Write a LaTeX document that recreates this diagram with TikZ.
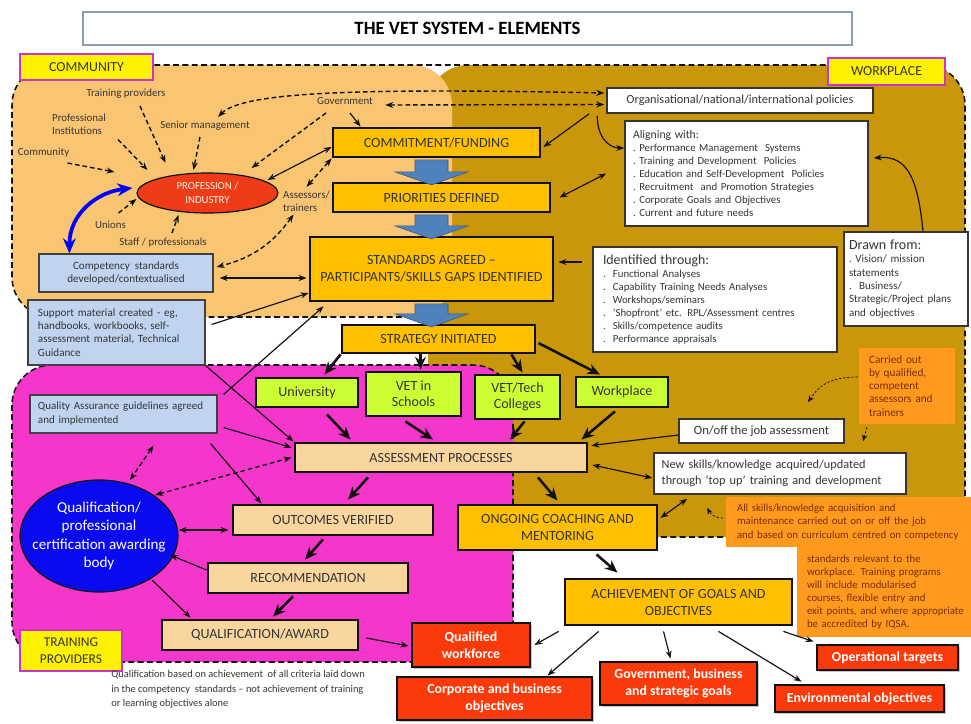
\documentclass[tikz,border=0pt]{standalone}
\usepackage{fontspec}
\setmainfont{Carlito}
\usepackage{xcolor}
\usepackage{tikz}
\usetikzlibrary{positioning,arrows.meta,calc,shapes.geometric,shadows}
\definecolor{commbg}{HTML}{F9C573}
\definecolor{workbg}{HTML}{C9960C}
\definecolor{pinkbg}{HTML}{F437CA}
\definecolor{gold}{HTML}{FFC000}
\definecolor{peach}{HTML}{FAD69F}
\definecolor{lime}{HTML}{CCFF33}
\definecolor{redbox}{HTML}{FA3A0A}
\definecolor{proffill}{HTML}{EE3B18}
\definecolor{lblue}{HTML}{C0D3EF}
\definecolor{notefill}{HTML}{FF9A1E}
\definecolor{notetxt}{HTML}{7A2E06}
\definecolor{qblue}{HTML}{0A0AF0}
\definecolor{blockblue}{HTML}{4F81BD}
\definecolor{tagline}{HTML}{CC33CC}
\definecolor{titleline}{HTML}{8C9DB5}
\definecolor{ink}{HTML}{111111}
\definecolor{muted}{HTML}{3A3530}

\begin{document}
\begin{tikzpicture}[x=0.03cm,y=-0.03cm,
  font=\fontsize{9.2}{11.1}\selectfont,
  >={Stealth[length=2.4mm,width=1.8mm]},
  zone/.style={draw=ink,line width=1.3pt,dash pattern=on 5pt off 3pt},
  tag/.style={draw=tagline,line width=1.2pt,fill=yellow,text=ink!85,font=\fontsize{11.8}{13.5}\selectfont,align=center,inner sep=0pt},
  stage/.style={draw=ink,line width=2.4pt,fill=gold,text=ink!85,align=center,inner sep=0pt,font=\fontsize{12}{14.5}\selectfont},
  proc/.style={stage,fill=peach},
  route/.style={stage,fill=lime,font=\fontsize{12}{14}\selectfont},
  goal/.style={stage,fill=redbox,text=white,font=\bfseries\fontsize{11.8}{15}\selectfont,drop shadow={shadow xshift=1.5pt,shadow yshift=-1.5pt,opacity=.45}},
  wbox/.style={draw=ink!85,line width=1.3pt,fill=white,text=ink!85,inner sep=0pt},
  bluebox/.style={draw=ink!80,line width=1pt,fill=lblue,text=ink!85,inner sep=0pt,font=\fontsize{9.5}{11.2}\selectfont},
  note/.style={fill=notefill,text=notetxt,inner sep=0pt,align=left},
  lbl/.style={text=muted,align=left,inner sep=1pt,font=\fontsize{9.3}{11}\selectfont},
  arr/.style={line width=1pt,draw=ink},
  darr/.style={arr,line width=1.2pt,dash pattern=on 4pt off 2.5pt},
  thindash/.style={arr,line width=0.6pt,dash pattern=on 2pt off 1.5pt,>={Stealth[length=2mm,width=1.6mm]}},
  fat/.style={line width=2.2pt,draw=ink,-{Stealth[length=3.8mm,width=3.2mm]}},
  bluecurve/.style={line width=3.2pt,draw=blue,>={Stealth[length=4.5mm,width=3.8mm]}}]

  \useasboundingbox (0,0) rectangle (971,724);

  \fill[workbg,rounded corners=1.2cm] (428,537) -- (428,65) -- (965,65) -- (965,537) -- cycle;
  \fill[commbg,rounded corners=1.2cm] (12,65) rectangle (452,317);
  \fill[pinkbg,rounded corners=1.2cm] (12,365) rectangle (513,662);
  \draw[zone,rounded corners=1.2cm] (430,317) -- (12,317) -- (12,65) -- (965,65) -- (965,537) -- (513,537);
  \draw[zone,rounded corners=1.2cm] (12,365) rectangle (513,662);

  \node[draw=titleline,line width=1.2pt,fill=white,minimum width=23.07cm,minimum height=0.99cm,font=\bfseries\fontsize{16}{18}\selectfont] (title) at (467.5,28.5) {THE VET SYSTEM - ELEMENTS};
  \node[tag,minimum width=3.99cm,minimum height=0.78cm] (tcomm) at (86.5,67) {COMMUNITY};
  \node[tag,minimum width=3.51cm,minimum height=0.81cm] (twork) at (886.5,71.5) {WORKPLACE};
  \node[tag,minimum width=3.06cm,minimum height=1.23cm,font=\fontsize{11.5}{14}\selectfont] (ttrain) at (71,650.5) {TRAINING\\PROVIDERS};

  \node[lbl] (trprov) at (126,94) {Training providers};
  \node[lbl] (profinst) at (79,124.5) {Professional\\Institutions};
  \node[lbl] (seniorm) at (205,126) {Senior management};
  \node[lbl] (commty) at (43.5,153) {Community};
  \node[lbl] (govlbl) at (345,101) {Government};
  \node[lbl] (asstr) at (306.5,201.5) {Assessors/\\trainers};
  \node[lbl] (unions) at (110.5,225) {Unions};
  \node[lbl] (staffp) at (163,243) {Staff / professionals};
  \node[ellipse,draw=ink,line width=1pt,fill=proffill,text=white!90!orange,minimum width=4.23cm,minimum height=1.2cm,inner sep=0pt,align=center,font=\fontsize{9.2}{12}\selectfont] (prof) at (207.5,193) {PROFESSION /\\INDUSTRY};

  \node[stage,minimum width=6.21cm,minimum height=0.87cm] (commit) at (436.5,142.5) {COMMITMENT/FUNDING};
  \node[stage,minimum width=6.51cm,minimum height=0.87cm] (prior) at (441.5,197.5) {PRIORITIES DEFINED};
  \node[stage,minimum width=7.29cm,minimum height=1.92cm] (stand) at (431.5,269) {STANDARDS AGREED --\\PARTICIPANTS/SKILLS GAPS IDENTIFIED};
  \node[stage,minimum width=5.79cm,minimum height=0.84cm] (strat) at (438.5,339) {STRATEGY INITIATED};

  \node[bluebox,minimum width=5.22cm,minimum height=1.14cm,align=center] (compst) at (126,273) {Competency\ \ standards\\developed/contextualised};
  \node[bluebox,minimum width=5.31cm,minimum height=1.95cm,text width=4.71cm,align=left] (suppm) at (116.5,332.5) {Support material created - eg,\\handbooks, workbooks, self-\\assessment material, Technical\\Guidance};
  \node[bluebox,minimum width=5.61cm,minimum height=1.14cm,text width=5.13cm,align=left,font=\fontsize{9.4}{12}\selectfont] (qag) at (123.5,414) {Quality Assurance guidelines agreed\\and implemented};

  \node[wbox,minimum width=7.98cm,minimum height=0.75cm,font=\fontsize{10.5}{12}\selectfont] (orgp) at (740,100.5) {Organisational/national/international policies};
  \node[wbox,minimum width=7.29cm,minimum height=3.15cm,text width=6.81cm,align=left] (align) at (746.5,173.5) {{\fontsize{10}{11}\selectfont Aligning with:}\\
    .\ Performance Management\ \ Systems\\
    .\ Training and Development\ \ Policies\\
    .\ Education and Self-Development\ \ Policies\\
    .\ Recruitment\ \ and Promotion Strategies\\
    .\ Corporate Goals and Objectives\\
    .\ Current and future needs};
  \node[wbox,minimum width=7.32cm,minimum height=3.15cm,text width=6.72cm,align=left] (ident) at (715,299.5) {{\fontsize{11.8}{12}\selectfont Identified through:}\\
    .\ \ Functional Analyses\\
    .\ \ Capability Training Needs Analyses\\
    .\ \ Workshops/seminars\\
    .\ \ `Shopfront' etc. RPL/Assessment centres\\
    .\ \ Skills/competence audits\\
    .\ \ Performance appraisals};
  \node[wbox,minimum width=3.72cm,minimum height=2.82cm,text width=3.42cm,align=left,font=\fontsize{9.4}{11.4}\selectfont] (drawn) at (906,279) {{\fontsize{12}{13}\selectfont Drawn from:}\\
    .\ Vision/ mission\\statements\\.\ \ Business/\\Strategic/Project plans\\and objectives};
  \node[note,minimum width=2.88cm,minimum height=2.28cm,text width=2.28cm,font=\fontsize{9.6}{11.2}\selectfont] (carried) at (907,386) {Carried out\\by qualified,\\competent\\assessors and\\trainers};

  \node[route,minimum width=3.06cm,minimum height=0.87cm] (univ) at (307,392.5) {University};
  \node[route,minimum width=2.85cm,minimum height=1.32cm] (vets) at (413.5,394) {VET in\\Schools};
  \node[route,minimum width=2.55cm,minimum height=1.32cm] (vett) at (517.5,397) {VET/Tech\\Colleges};
  \node[route,minimum width=2.76cm,minimum height=0.9cm] (wplace) at (622,392) {Workplace};

  \node[proc,minimum width=8.76cm,minimum height=0.87cm] (asmt) at (441,457.5) {ASSESSMENT PROCESSES};
  \node[wbox,minimum width=4.95cm,minimum height=0.72cm,font=\fontsize{10.8}{12}\selectfont] (onoff) at (761.5,431) {On/off the job assessment};
  \node[wbox,minimum width=7.56cm,minimum height=1.23cm,text width=7.1cm,align=left,font=\fontsize{10.5}{13.5}\selectfont] (newsk) at (780,473.5) {New skills/knowledge acquired/updated\\through `top up' training and development};
  \node[note,minimum width=5.52cm,minimum height=2.7cm,inner xsep=0.3cm,text width=4.92cm,font=\fontsize{9.25}{11.2}\selectfont] (allsk2) at (889,592) {standards relevant to the\\workplace. Training programs\\will include modularised\\courses, flexible entry and\\exit points, and where appropriate\\be accredited by IQSA.};
  \node[note,minimum width=7.66cm,minimum height=1.5cm,inner xsep=0.33cm,text width=7cm,font=\fontsize{9.2}{11.2}\selectfont] (allsk) at (853.7,522) {All skills/knowledge acquisition and\\maintenance carried out on or off the job\\and based on curriculum centred on competency};

  \node[ellipse,draw=ink,line width=1pt,fill=qblue,text=white,minimum width=4.74cm,minimum height=3.36cm,inner xsep=-0.36cm,inner ysep=0pt,align=center,font=\fontsize{12.9}{15.6}\selectfont] (qbody) at (99,536) {Qualification/\\professional\\certification awarding\\body};
  \node[proc,minimum width=6cm,minimum height=0.9cm] (outc) at (333,520) {OUTCOMES VERIFIED};
  \node[proc,minimum width=6cm,minimum height=0.9cm] (recom) at (308,578) {RECOMMENDATION};
  \node[proc,minimum width=5.88cm,minimum height=0.9cm] (qaward) at (260,635) {QUALIFICATION/AWARD};
  \node[stage,minimum width=5.97cm,minimum height=1.35cm] (ongo) at (557.5,527.5) {ONGOING COACHING AND\\MENTORING};
  \node[stage,minimum width=6.81cm,minimum height=1.38cm] (achv) at (678.5,602) {ACHIEVEMENT OF GOALS AND\\OBJECTIVES};

  \node[goal,minimum width=3.54cm,minimum height=1.32cm] (qwork) at (471,645) {Qualified\\workforce};
  \node[goal,minimum width=5.85cm,minimum height=1.29cm] (corp) at (494.5,698.5) {Corporate and business\\objectives};
  \node[goal,minimum width=4.71cm,minimum height=1.29cm] (govt) at (678.5,683.5) {Government, business\\and strategic goals};
  \node[goal,minimum width=4.23cm,minimum height=0.75cm] (optg) at (887.5,657.5) {Operational targets};
  \node[goal,minimum width=5.07cm,minimum height=0.81cm] (envo) at (859.5,698.5) {Environmental objectives};
  \node[lbl,anchor=north west,font=\fontsize{8.9}{12.5}\selectfont] (qnote) at (110,669) {Qualification based on achievement\ \ of all criteria laid down\\in the competency\ \ standards -- not achievement of training\\or learning objectives alone};

  \foreach \a/\b/\s in {commit/prior/12,prior/stand/11,stand/strat/10}
    \filldraw[fill=blockblue,draw=blockblue!70!black,line width=0.5pt] (\a.south -| stand.center) ++(-16.5,1.5) -- ++(33,0) -- ++(0,\s) -- ++(20,0) -- ++(-36.5,13) -- ++(-36.5,-13) -- ++(20,0) -- cycle;

  \draw[darr,->] ([shift={(14,12)}]trprov.center) -- ([shift={(-42,-30)}]prof.center);
  \draw[darr,->] ([shift={(39,15)}]profinst.center) -- ([shift={(-60,-23)}]prof.center);
  \draw[darr,->] ([shift={(24,10)}]commty.center) -- ([shift={(-93,-21)}]prof.center);
  \draw[darr,->] ([shift={(-5,11)}]seniorm.center) -- ([shift={(-14,-23)}]prof.center);
  \draw[darr,->] ([shift={(-19,12)}]govlbl.center) -- ([shift={(44,-25)}]prof.center);
  \draw[darr,->] ([shift={(8,-12)}]unions.center) -- ([shift={(-71,6)}]prof.center);
  \draw[darr,->] ([shift={(9,-10)}]staffp.center) -- ([shift={(-29,22)}]prof.center);
  \draw[arr,<->] ([shift={(60,-13)}]prof.center) -- ([shift={(0,4.5)}]commit.west);
  \draw[arr,->] ([shift={(5,12)}]govlbl.center) -- ([shift={(29,0)}]commit.north west);
  \draw[darr,<->] ([shift={(0,-3)}]asstr.north) -- (commit.south west);
  \draw[darr,<->] ([shift={(-13,13)}]asstr.center) to[bend left=20] ([shift={(3,-6)}]compst.east);
  \draw[bluecurve,<->] ([shift={(31,0)}]compst.north west) .. controls +(0,-40) and +(-35,4) .. ([shift={(-4,-5)}]prof.west);
  \draw[arr,<->] ([shift={(6,5)}]compst.east) -- ([shift={(-2,9)}]stand.west);
  \draw[arr,->] ([shift={(6,-8)}]suppm.east) -- ([shift={(0,24)}]stand.west);
  \draw[arr,->] ([shift={(6,0)}]qag.north east) -- ([shift={(15,4)}]stand.south west);
  \draw[arr,->] (suppm.south east) -- (asmt.north west);
  \draw[arr,->] ([shift={(6,-6)}]qag.south east) -- ([shift={(-2,-10)}]asmt.west);
  \draw[arr,->] ([shift={(-7,10)}]qag.south east) -- ([shift={(30,0)}]outc.north west);
  \draw[darr,<->] ([shift={(30,12)}]qag.south) -- ([shift={(31,-56)}]qbody.center);
  \draw[darr,<->] ([shift={(56,-41)}]qbody.center) -- ([shift={(-2,0)}]asmt.west);
  \draw[arr,<->] ([shift={(0,-6)}]qbody.east) -- ([shift={(-3,10)}]outc.west);
  \draw[arr,->] ([shift={(0,-8)}]recom.west) -- ([shift={(71,19)}]qbody.center);
  \draw[arr,->] ([shift={(53,44)}]qbody.center) -- ([shift={(30,-1)}]qaward.north west);
  \draw[arr,->] ([shift={(7,3)}]qaward.east) -- ([shift={(-2,1)}]qwork.west);

  \draw[fat] (strat.south west) -- ([shift={(-35,-2)}]univ.north east);
  \draw[fat] ([shift={(-18,0)}]strat.south) -- ([shift={(7,-1)}]vets.north);
  \draw[fat] ([shift={(-25,0)}]strat.south east) -- ([shift={(5,-1)}]vett.north);
  \draw[fat] ([shift={(2,4)}]strat.east) -- ([shift={(-22,-1)}]wplace.north);
  \draw[fat] ([shift={(20,6)}]univ.south) -- ([shift={(57,-2)}]asmt.north west);
  \draw[fat] ([shift={(-8,4)}]vets.south) -- ([shift={(-8,-2)}]asmt.north);
  \draw[fat] ([shift={(7,1)}]vett.south) -- ([shift={(69,-2)}]asmt.north);
  \draw[fat] ([shift={(-7,3)}]wplace.south) -- ([shift={(-7,-2)}]asmt.north east);
  \draw[fat] ([shift={(-73,4)}]asmt.south) -- ([shift={(15,-4)}]outc.north);
  \draw[fat] ([shift={(97,4)}]asmt.south) -- ([shift={(0,-3)}]ongo.north);
  \draw[fat] ([shift={(-10,3)}]outc.south) -- ([shift={(-3,-2)}]recom.north);
  \draw[fat] ([shift={(-15,2)}]recom.south) -- ([shift={(13,-2)}]qaward.north);
  \draw[fat] ([shift={(39,3)}]ongo.south) -- ([shift={(-61,-5)}]achv.north);

  \draw[arr,->] ([shift={(-5,5)}]achv.south west) -- ([shift={(3,0)}]qwork.east);
  \draw[arr,->] ([shift={(35,5)}]achv.south west) -- ([shift={(53,0)}]corp.north);
  \draw[arr,->] ([shift={(-15,5)}]achv.south) -- ([shift={(-8,-2)}]govt.north);
  \draw[arr,->] ([shift={(40,5)}]achv.south) -- ([shift={(28,-2)}]envo.north west);
  \draw[arr,->] ([shift={(-10,5)}]achv.south east) -- ([shift={(-2,-2)}]optg.north west);

  \draw[darr,<->] ([shift={(13,-3)}]seniorm.north) .. controls +(25,-25) and +(-250,-5) .. ([shift={(-2,-7.5)}]orgp.west);
  \draw[darr,<->] ([shift={(11,4)}]govlbl.east) -- ([shift={(-2,4)}]orgp.west);
  \draw[arr,->] ([shift={(-17,0)}]orgp.south west) -- ([shift={(2,4.5)}]commit.east);
  \draw[arr,->] ([shift={(-9,2)}]orgp.south west) .. controls +(0,22) and +(-15,0) .. ([shift={(0,-25.5)}]align.west);
  \draw[arr,<->] ([shift={(8,0)}]prior.east) -- ([shift={(-18,0)}]align.west);
  \draw[arr,->] ([shift={(17,0)}]drawn.north) .. controls +(-5,-50) and +(35,-3) .. ([shift={(5,-15.5)}]align.east);
  \draw[arr,->] ([shift={(-10,-37.5)}]ident.west) -- ([shift={(4,-7)}]stand.east);
  \draw[thindash,->] ([shift={(-1,-9)}]carried.west) .. controls +(-30,0) and +(10,-15) .. ([shift={(46.5,-16)}]onoff.north);
  \draw[thindash,->] ([shift={(-40,3)}]carried.south) -- ([shift={(83,-11)}]newsk.north);
  \draw[arr,->] ([shift={(0,4)}]onoff.west) -- ([shift={(3,-12)}]asmt.east);
  \draw[arr,<->] ([shift={(4,7.5)}]asmt.east) -- ([shift={(-1,4.5)}]newsk.west);
  \draw[arr,<->] ([shift={(34,4)}]newsk.south west) -- ([shift={(2,-9.5)}]ongo.east);
  \draw[thindash,->] ([shift={(-3,-4)}]allsk.west) .. controls +(-8,0) and +(3,6) .. ([shift={(54,13)}]newsk.south west);
\end{tikzpicture}
\end{document}
